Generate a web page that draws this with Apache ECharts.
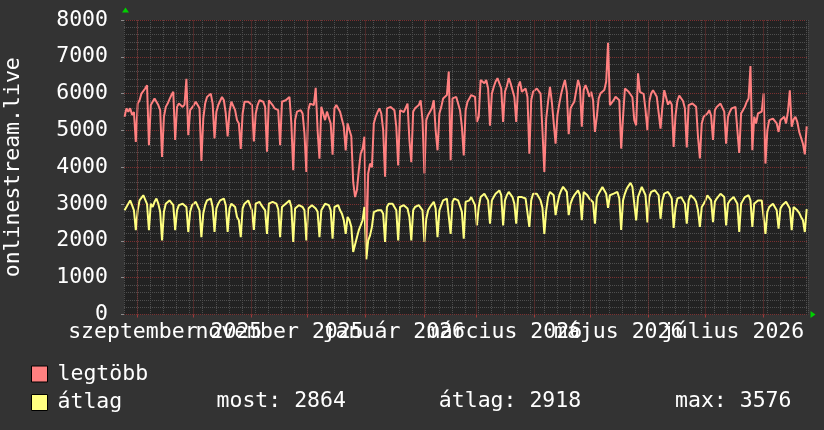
<!DOCTYPE html>
<html><head><meta charset="utf-8">
<script src="https://cdn.jsdelivr.net/npm/echarts@6/dist/echarts.min.js"></script>
<style>html,body{margin:0;padding:0;background:#333333;}#c{width:824px;height:430px;}</style>
</head><body><div id="c"></div>
<script>
// daily values, Monday 2025-08-25 .. Monday 2026-08-24
const legtobb = [
5370,5600,5510,5600,5420,5500,4690,
5730,5820,6000,5960,6140,6230,4600,
5690,5640,5870,5780,5690,5550,4280,
5370,5640,5730,5850,5960,6050,4740,
5640,5730,5780,5640,5700,6400,4870,
5550,5600,5690,5780,5730,5600,4170,
5320,5730,5910,5960,6000,5730,4780,
5510,5690,5640,5910,5820,5460,4840,
5510,5780,5730,5550,5280,5190,4500,
5460,5780,5820,5780,5780,5690,4700,
5460,5690,5820,5800,5780,5640,4420,
5820,5780,5690,5600,5550,5550,4600,
5780,5800,5820,5870,5910,5190,3920,
5280,5510,5460,5550,5460,4920,3870,
5550,5730,5700,5690,6160,5010,4230,
5640,5640,5280,5510,5550,5190,4340,
5600,5690,5730,5510,5460,5100,4460,
5190,5010,4840,3600,3190,3380,3920,
4370,4500,4830,1600,3830,4100,4000,
5190,5370,5500,5600,5460,5010,3740,
5600,5600,5640,5640,5550,5100,4050,
5550,5600,5500,5460,5730,4740,4140,
5510,5600,5640,5690,5820,5280,3830,
5280,5420,5510,5600,5820,5010,4460,
5460,5640,5870,5910,5960,6600,4190,
5870,5890,5910,5870,5550,5100,4320,
5550,5780,5870,5960,6000,5910,5230,
5370,6370,6330,6280,6370,6140,5130,
6000,6180,6330,6420,6460,6140,5230,
6050,6200,6420,6280,6280,5910,5230,
6180,6330,6050,6100,6140,5910,4370,
5820,6050,6100,6140,6140,6000,5000,
3870,5320,5780,6180,5780,5780,4640,
5420,5730,6000,6200,6370,6050,4900,
5600,5700,5780,5820,6370,6180,5100,
6100,6230,6095,5914,6050,5823,4961,
5370,5870,6010,6050,6100,6320,7383,
5687,5687,5823,5914,5869,5823,4507,
5370,6140,6190,6050,6050,5900,5280,
5140,6550,6050,6095,5990,5550,5010,
5778,6005,6095,6050,5914,5914,5050,
5641,6095,6050,5700,5800,5700,4553,
5400,5800,5950,6000,5800,5600,4540,
5687,5642,5732,5700,5642,4830,4240,
5190,5370,5400,5460,5550,5400,4740,
5550,5640,5690,5730,5730,5510,4640,
5370,5510,5600,5640,5640,5600,4390,
5460,5550,5640,5780,5870,6750,4460,
5370,5190,5460,5510,5510,6000,4100,
5000,5280,5320,5320,5280,5190,4960,
5280,5320,5370,5190,5510,6090,5100,
5300,5370,5230,4960,4800,4640,4350,
5110
];
const atlag = [
2830,2920,2970,3100,2970,2830,2290,
2830,3100,3150,3240,3190,3000,2290,
3010,2920,3060,3150,3010,2790,2010,
2790,3010,3060,3100,3150,2970,2290,
2830,2970,3010,3010,3060,2920,2240,
2790,2970,3010,3060,3060,2830,2100,
2740,2970,3100,3150,3150,2920,2240,
2880,3010,3100,3150,3150,2970,2240,
2880,3010,3060,2920,2650,2560,2100,
2880,3010,2970,3100,3060,2830,2300,
3010,3060,3060,2970,2970,2830,2190,
3010,3060,3060,3010,3010,2860,2100,
2920,2970,3010,3060,3100,2920,1970,
2880,2920,2970,3010,2920,2830,2010,
2880,2920,2970,2970,2880,2790,2100,
2830,2920,3010,2990,2970,2830,2060,
2920,2970,2970,2830,2740,2560,2190,
2650,2560,2380,1700,1740,2100,2290,
2420,2560,2920,1500,2010,2150,2380,
2780,2790,2830,2880,2830,2740,1970,
2920,3010,3010,3010,2970,2830,2010,
2920,2920,2970,2970,2880,2650,2010,
2830,2920,2950,2970,3010,2830,1970,
2600,2830,2920,2970,3060,2880,2100,
2830,2970,3100,3150,3150,3100,2190,
3060,3150,3150,3100,3060,2790,2060,
3060,3100,3100,3190,3150,2970,2420,
2920,3190,3240,3280,3190,3100,2470,
3100,3190,3280,3330,3370,3240,2420,
3100,3240,3330,3280,3190,3010,2470,
3190,3240,3190,3150,3150,3100,2380,
3100,3280,3280,3280,3190,3100,2900,
2190,2830,3190,3330,3330,3240,2700,
3010,3240,3370,3470,3510,3330,2700,
3010,3150,3240,3280,3370,3240,2560,
3330,3300,3240,3150,3100,3050,2470,
3190,3284,3375,3466,3480,3280,2900,
3240,3240,3284,3330,3330,3150,2300,
3100,3284,3420,3500,3576,3466,3012,
2558,3193,3330,3466,3420,3240,2500,
3193,3330,3330,3375,3375,3240,2600,
3102,3284,3330,3330,3250,3150,2350,
2900,3150,3190,3190,3100,3010,2470,
3100,3240,3190,3150,3060,2830,2380,
2920,3000,3100,3240,3190,3100,2510,
3060,3150,3190,3280,3280,3190,2420,
3010,3100,3150,3190,3190,3010,2240,
3010,3100,3190,3240,3240,3100,2380,
3010,3060,3100,3150,3100,3060,2190,
2790,2920,2970,3010,2920,2830,2330,
2880,2970,3010,3060,3060,2880,2290,
2920,2880,2830,2760,2650,2560,2240,
2864
];
const seriesNames = ['legtöbb', 'átlag'];
const monthStartDays = [7, 37, 68, 98, 129, 160, 188, 219, 249, 280, 310, 341];
const labelDaysA = [22, 144, 264];
const labelTextsA = ['szeptember 2025', 'január 2026', 'május 2026'];
const labelDaysB = [83, 203, 325];
const labelTextsB = ['november 2025', 'március 2026', 'július 2026'];
const yTitle = 'onlinestream.live';
const statTexts = ['most: 2864', 'átlag: 2918', 'max: 3576'];

const FONT = 'DejaVu Sans Mono';
const FS = 21.5;
const TXT = '#ffffff';
const RED = '#ff8080';
const YEL = '#ffff80';
const MAJOR = '#7a3030';
const MINOR = '#4e4e4e';
const dayOffset = 0.3;
const pts = arr => arr.map((v, i) => [i + dayOffset, v]);

const labelAxis = (days, texts, showGrid, tickDays) => ({
  type: 'value', min: 0, max: 365, interval: 7, position: 'bottom', offset: 0,
  axisLine: {show: false},
  axisTick: tickDays
    ? {show: true, customValues: tickDays, length: 3, lineStyle: {color: '#a03a3a', width: 1}}
    : {show: false},
  splitLine: {show: showGrid, lineStyle: {color: MINOR, width: 1, type: [1, 1]}},
  axisLabel: {
    customValues: days,
    formatter: v => texts[days.indexOf(v)] || '',
    showMinLabel: true, showMaxLabel: true,
    color: TXT, fontFamily: FONT, fontSize: FS, margin: 7, hideOverlap: false
  }
});

const legendBase = {
  orient: 'vertical', left: 31, padding: 0, itemWidth: 16, itemHeight: 16, itemGap: 0,
  icon: 'rect', selectedMode: false,
  textStyle: {color: TXT, fontFamily: FONT, fontSize: FS, lineHeight: 16, padding: [0, 0, 0, 5]}
};

const chart = echarts.init(document.getElementById('c'), null, {renderer: 'canvas'});
chart.setOption({
  backgroundColor: '#333333',
  animation: false,
  grid: {
    left: 124, top: 20, width: 684, height: 294.5, show: true, backgroundColor: '#222222', borderWidth: 0,
    containLabel: false, outerBoundsMode: 'none'
  },
  xAxis: [
    labelAxis(labelDaysA, labelTextsA, true, null),
    labelAxis(labelDaysB, labelTextsB, false, monthStartDays)
  ],
  yAxis: {
    type: 'value', min: 0, max: 8000, interval: 1000,
    name: yTitle, nameLocation: 'middle', nameRotate: 90, nameGap: 100,
    nameTextStyle: {color: TXT, fontFamily: FONT, fontSize: FS},
    axisLine: {show: false},
    axisTick: {show: true, length: 3, lineStyle: {color: '#8a8a8a', width: 1}},
    splitLine: {show: true, lineStyle: {color: MAJOR, width: 1, type: [1, 1]}},
    minorTick: {show: false, splitNumber: 5},
    minorSplitLine: {show: true, lineStyle: {color: MINOR, width: 1, type: [1, 1]}},
    axisLabel: {color: TXT, fontFamily: FONT, fontSize: FS, margin: 16, formatter: v => String(v)}
  },
  legend: [
    Object.assign({}, legendBase, {top: 363,
      data: [{name: seriesNames[0], itemStyle: {color: RED, borderColor: '#000', borderWidth: 1}}]}),
    Object.assign({}, legendBase, {top: 391.5,
      data: [{name: seriesNames[1], itemStyle: {color: YEL, borderColor: '#000', borderWidth: 1}}]})
  ],
  graphic: statTexts.map((t, i) => ({
    type: 'text', x: [216.5, 438.8, 675][i], y: 401.5, silent: true,
    style: {text: t, fill: TXT, fontFamily: FONT, fontSize: FS, verticalAlign: 'middle'}
  })),
  series: [
    {
      type: 'line', name: 'grid', data: [], z: 1, silent: true, xAxisIndex: 0,
      markLine: {
        silent: true, symbol: ['none', 'none'], label: {show: false}, animation: false,
        lineStyle: {color: MAJOR, width: 1, type: [1, 1]},
        emphasis: {disabled: true},
        data: monthStartDays.map(d => ({xAxis: d}))
      },
      markPoint: {
        silent: true, animation: false, label: {show: false},
        itemStyle: {color: '#00d000'},
        data: [
          {coord: [0, 8000], symbol: 'triangle', symbolSize: [7, 5], symbolOffset: [1.5, -10]},
          {coord: [365, 0], symbol: 'triangle', symbolSize: [7, 5], symbolRotate: -90, symbolOffset: [5, 0]}
        ]
      }
    },
    {
      type: 'line', name: seriesNames[0], data: pts(legtobb), z: 3, xAxisIndex: 0,
      symbol: 'none', showSymbol: false, silent: true,
      lineStyle: {color: RED, width: 2}, itemStyle: {color: RED}
    },
    {
      type: 'line', name: seriesNames[1], data: pts(atlag), z: 4, xAxisIndex: 0,
      symbol: 'none', showSymbol: false, silent: true,
      lineStyle: {color: YEL, width: 2}, itemStyle: {color: YEL}
    }
  ]
});
</script></body></html>
